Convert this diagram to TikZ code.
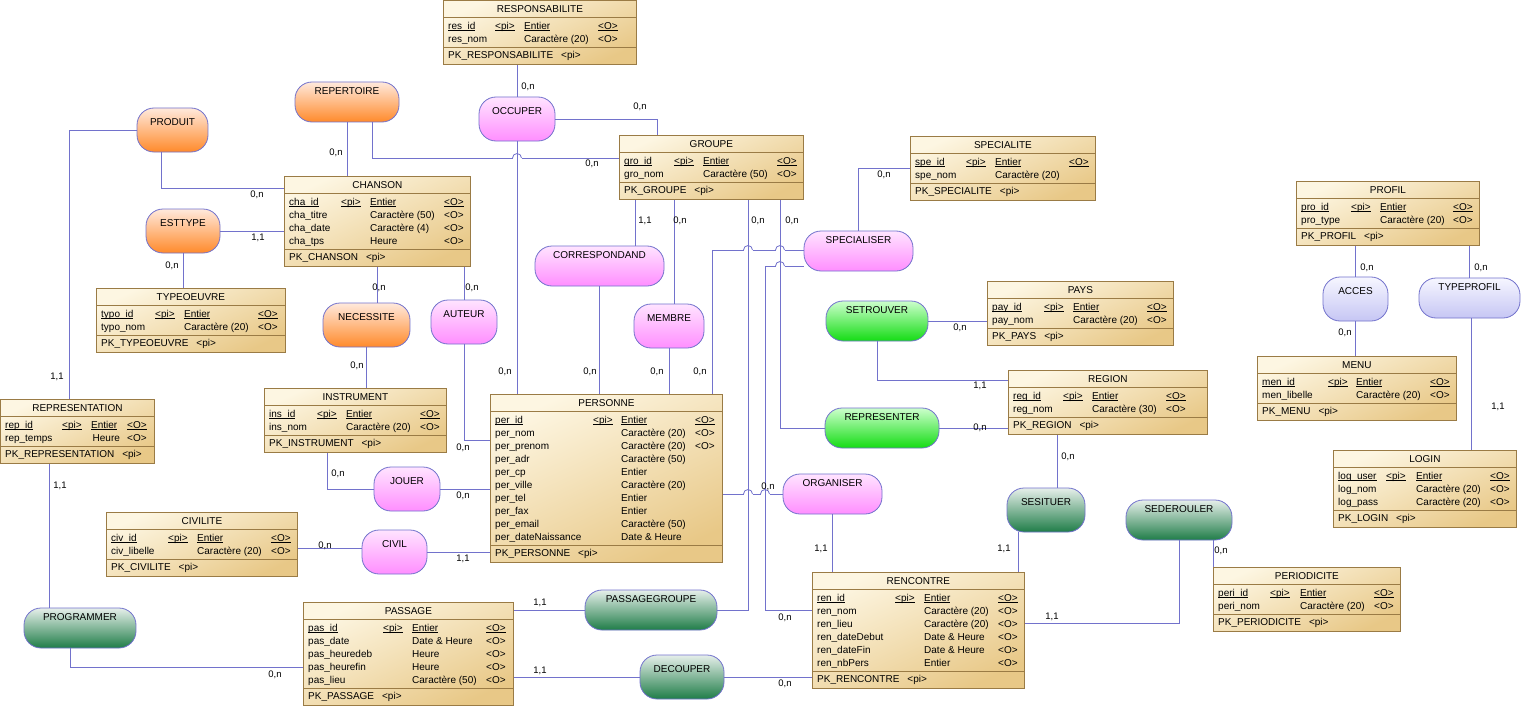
\documentclass[tikz,border=0pt]{standalone}
\usepackage{fontspec}
\setmainfont{Liberation Sans}

\definecolor{entclair}{HTML}{FDF6E2}
\definecolor{entfonce}{HTML}{E8C887}
\definecolor{entbord}{HTML}{9A7B45}
\definecolor{bleulien}{HTML}{7272CC}
\definecolor{orclair}{HTML}{FFE9DC}
\definecolor{orfonce}{HTML}{FF8A2B}
\definecolor{roclair}{HTML}{FFE4FF}
\definecolor{rofonce}{HTML}{FF8EFF}
\definecolor{vvclair}{HTML}{CCFFCC}
\definecolor{vvfonce}{HTML}{14DC14}
\definecolor{vfclair}{HTML}{E6EFEA}
\definecolor{vffonce}{HTML}{1F7D48}
\definecolor{blclair}{HTML}{F6F6FF}
\definecolor{blfonce}{HTML}{C6C6F4}

\setlength{\tabcolsep}{0pt}
\newlength{\lgidf}
\newcommand{\idf}[1]{\leavevmode\settowidth{\lgidf}{#1}\rlap{\rule[-1.4pt]{\lgidf}{0.6pt}}#1}

% #1 nom, #2 coin haut gauche, #3 largeur, #4 lignes, #5 titre, #6 colonnes, #7 attributs, #8 cle
\newcommand{\entite}[8]{%
  \pgfmathsetmacro{\hent}{38+13*#4}%
  \pgfmathsetmacro{\hsep}{21+13*#4}%
  \node[entite, minimum width=#3pt, minimum height=\hent pt] (#1) at (#2) {};
  \draw[bordent] ([yshift=-17pt]#1.north west) -- ([yshift=-17pt]#1.north east);
  \draw[bordent] ([yshift=-\hsep pt]#1.north west) -- ([yshift=-\hsep pt]#1.north east);
  \node[titre] (#1-titre) at ([yshift=-9pt]#1.north) {#5};
  \node[attributs] (#1-attr) at ([xshift=5pt,yshift=-20pt]#1.north west) {\begin{tabular}{#6}#7\end{tabular}};
  \node[cle] (#1-cle) at ([xshift=5pt,yshift=8.5pt]#1.south west) {#8\hspace{8pt}<pi>};
}

\begin{document}
\begin{tikzpicture}[x=1pt,y=-1pt]
  \tikzstyle{entite}=[draw=entbord,line width=0.8pt,top color=entclair,bottom color=entfonce,shading angle=25,inner sep=0pt,anchor=north west]
  \tikzstyle{bordent}=[draw=entbord,line width=0.8pt]
  \tikzstyle{titre}=[inner sep=0pt,font=\fontsize{10}{13}\selectfont]
  \tikzstyle{attributs}=[inner sep=0pt,anchor=north west,font=\fontsize{10}{13}\selectfont]
  \tikzstyle{cle}=[inner sep=0pt,anchor=west,font=\fontsize{10}{13}\selectfont]
  \tikzstyle{assoc}=[draw=bleulien,line width=0.8pt,rounded corners=17pt,inner xsep=2pt,inner ysep=4pt,font=\fontsize{10}{13}\selectfont]
  \tikzstyle{mince}=[text height=8.1pt,text depth=23.9pt]
  \tikzstyle{epais}=[text height=13.6pt,text depth=22.4pt]
  \tikzstyle{aorange}=[top color=orclair,bottom color=orfonce]
  \tikzstyle{arose}=[top color=roclair,bottom color=rofonce]
  \tikzstyle{avert}=[top color=vvclair,bottom color=vvfonce]
  \tikzstyle{avertf}=[top color=vfclair,bottom color=vffonce]
  \tikzstyle{alav}=[top color=blclair,bottom color=blfonce]
  \tikzstyle{lien}=[draw=bleulien,line width=0.8pt]
  \tikzstyle{vh}=[to path={|- (\tikztotarget)}]
  \tikzstyle{hv}=[to path={-| (\tikztotarget)}]
  \tikzstyle{card}=[inner sep=0pt,font=\fontsize{9.5}{11}\selectfont]

  \path[use as bounding box,fill=white] (0,0) rectangle (1522,706);

  \entite{responsabilite}{443,0}{193}{2}{RESPONSABILITE}{p{47pt}p{29pt}p{74pt}l}
    {\idf{res\_id} & \idf{<pi>} & \idf{Entier} & \idf{<O>}\\ res\_nom & & Caractère (20) & <O>}{PK\_RESPONSABILITE}
  \entite{chanson}{284,176}{186}{4}{CHANSON}{p{52pt}p{29pt}p{74pt}l}
    {\idf{cha\_id} & \idf{<pi>} & \idf{Entier} & \idf{<O>}\\ cha\_titre & & Caractère (50) & <O>\\
     cha\_date & & Caractère (4) & <O>\\ cha\_tps & & Heure & <O>}{PK\_CHANSON}
  \entite{groupe}{619,135}{184}{2}{GROUPE}{p{50pt}p{29pt}p{74pt}l}
    {\idf{gro\_id} & \idf{<pi>} & \idf{Entier} & \idf{<O>}\\ gro\_nom & & Caractère (50) & <O>}{PK\_GROUPE}
  \entite{specialite}{910,136}{185}{2}{SPECIALITE}{p{51pt}p{29pt}p{74pt}l}
    {\idf{spe\_id} & \idf{<pi>} & \idf{Entier} & \idf{<O>}\\ spe\_nom & & Caractère (20) & }{PK\_SPECIALITE}
  \entite{profil}{1296,181}{183}{2}{PROFIL}{p{50pt}p{29pt}p{73pt}l}
    {\idf{pro\_id} & \idf{<pi>} & \idf{Entier} & \idf{<O>}\\ pro\_type & & Caractère (20) & <O>}{PK\_PROFIL}
  \entite{typeoeuvre}{96,288}{189}{2}{TYPEOEUVRE}{p{54pt}p{29pt}p{74pt}l}
    {\idf{typo\_id} & \idf{<pi>} & \idf{Entier} & \idf{<O>}\\ typo\_nom & & Caractère (20) & <O>}{PK\_TYPEOEUVRE}
  \entite{representation}{0,399}{154}{2}{REPRESENTATION}{p{57pt}p{29pt}p{36pt}l}
    {\idf{rep\_id} & \idf{<pi>} & \idf{Entier} & \idf{<O>}\\ rep\_temps & & \hspace{1.5pt}Heure & <O>}{PK\_REPRESENTATION}
  \entite{instrument}{264,388}{182}{2}{INSTRUMENT}{p{48pt}p{29pt}p{74pt}l}
    {\idf{ins\_id} & \idf{<pi>} & \idf{Entier} & \idf{<O>}\\ ins\_nom & & Caractère (20) & <O>}{PK\_INSTRUMENT}
  \entite{personne}{490,394}{232}{10}{PERSONNE}{p{98pt}p{28pt}p{74pt}l}
    {\idf{per\_id} & \idf{<pi>} & \idf{Entier} & \idf{<O>}\\ per\_nom & & Caractère (20) & <O>\\
     per\_prenom & & Caractère (20) & <O>\\ per\_adr & & Caractère (50) & \\ per\_cp & & Entier & \\
     per\_ville & & Caractère (20) & \\ per\_tel & & Entier & \\ per\_fax & & Entier & \\
     per\_email & & Caractère (50) & \\ per\_dateNaissance & & Date \& Heure & }{PK\_PERSONNE}
  \entite{pays}{987,281}{186}{2}{PAYS}{p{52pt}p{29pt}p{74pt}l}
    {\idf{pay\_id} & \idf{<pi>} & \idf{Entier} & \idf{<O>}\\ pay\_nom & & Caractère (20) & <O>}{PK\_PAYS}
  \entite{region}{1008,370}{199}{2}{REGION}{p{50pt}p{29pt}p{74pt}l}
    {\idf{reg\_id} & \idf{<pi>} & \idf{Entier} & \idf{<O>}\\ reg\_nom & & Caractère (30) & <O>}{PK\_REGION}
  \entite{menu}{1257,356}{199}{2}{MENU}{p{66pt}p{28pt}p{74pt}l}
    {\idf{men\_id} & \idf{<pi>} & \idf{Entier} & \idf{<O>}\\ men\_libelle & & Caractère (20) & <O>}{PK\_MENU}
  \entite{login}{1333,450}{183}{3}{LOGIN}{p{48pt}p{30pt}p{74pt}l}
    {\idf{log\_user} & \idf{<pi>} & \idf{Entier} & \idf{<O>}\\ log\_nom & & Caractère (20) & <O>\\
     log\_pass & & Caractère (20) & <O>}{PK\_LOGIN}
  \entite{civilite}{106,512}{191}{2}{CIVILITE}{p{57pt}p{29pt}p{74pt}l}
    {\idf{civ\_id} & \idf{<pi>} & \idf{Entier} & \idf{<O>}\\ civ\_libelle & & Caractère (20) & <O>}{PK\_CIVILITE}
  \entite{passage}{303,602}{210}{5}{PASSAGE}{p{75pt}p{29pt}p{74pt}l}
    {\idf{pas\_id} & \idf{<pi>} & \idf{Entier} & \idf{<O>}\\ pas\_date & & Date \& Heure & <O>\\
     pas\_heuredeb & & Heure & <O>\\ pas\_heurefin & & Heure & <O>\\ pas\_lieu & & Caractère (50) & <O>}{PK\_PASSAGE}
  \entite{rencontre}{812,572}{212}{6}{RENCONTRE}{p{78pt}p{29pt}p{74pt}l}
    {\idf{ren\_id} & \idf{<pi>} & \idf{Entier} & \idf{<O>}\\ ren\_nom & & Caractère (20) & <O>\\
     ren\_lieu & & Caractère (20) & <O>\\ ren\_dateDebut & & Date \& Heure & <O>\\
     ren\_dateFin & & Date \& Heure & <O>\\ ren\_nbPers & & Entier & <O>}{PK\_RENCONTRE}
  \entite{periodicite}{1213,567}{187}{2}{PERIODICITE}{p{52pt}p{30pt}p{74pt}l}
    {\idf{peri\_id} & \idf{<pi>} & \idf{Entier} & \idf{<O>}\\ peri\_nom & & Caractère (20) & <O>}{PK\_PERIODICITE}

  \node[assoc,mince,aorange,minimum width=104pt] (repertoire) at (347,102) {REPERTOIRE};
  \node[assoc,epais,aorange,minimum width=71pt] (produit) at (172.5,130) {PRODUIT};
  \node[assoc,epais,arose,minimum width=76pt] (occuper) at (517,119) {OCCUPER};
  \node[assoc,epais,aorange,minimum width=74pt] (esttype) at (183,231) {ESTTYPE};
  \node[assoc,mince,arose,minimum width=129pt] (correspondand) at (599.5,266) {CORRESPONDAND};
  \node[assoc,mince,arose,minimum width=109pt] (specialiser) at (858.5,251) {SPECIALISER};
  \node[assoc,epais,aorange,minimum width=87pt] (necessite) at (366.5,325) {NECESSITE};
  \node[assoc,epais,arose,minimum width=66pt] (auteur) at (464,322) {AUTEUR};
  \node[assoc,epais,arose,minimum width=70pt] (membre) at (669,326) {MEMBRE};
  \node[assoc,mince,avert,minimum width=102pt] (setrouver) at (877,321) {SETROUVER};
  \node[assoc,epais,alav,minimum width=65pt] (acces) at (1355.5,299) {ACCES};
  \node[assoc,mince,alav,minimum width=101pt] (typeprofil) at (1469.5,298) {TYPEPROFIL};
  \node[assoc,mince,avert,minimum width=114pt] (representer) at (882,428) {REPRESENTER};
  \node[assoc,epais,arose,minimum width=66pt] (jouer) at (407,489) {JOUER};
  \node[assoc,mince,arose,minimum width=99pt] (organiser) at (832.5,494) {ORGANISER};
  \node[assoc,epais,avertf,minimum width=78pt] (sesituer) at (1046,510) {SESITUER};
  \node[assoc,mince,avertf,minimum width=106pt] (sederouler) at (1179,520) {SEDEROULER};
  \node[assoc,epais,arose,minimum width=65pt] (civil) at (394.5,552) {CIVIL};
  \node[assoc,mince,avertf,minimum width=112pt] (programmer) at (80,628) {PROGRAMMER};
  \node[assoc,mince,avertf,minimum width=132pt] (passagegroupe) at (651,610) {PASSAGEGROUPE};
  \node[assoc,epais,avertf,minimum width=84pt] (decouper) at (682,677) {DECOUPER};

  \path[lien] (occuper.north) edge (occuper.north |- responsabilite.south);
  \path[lien] (occuper.east) edge[hv] ([xshift=38pt]groupe.north west);
  \path[lien] (occuper.south) edge (occuper.south |- personne.north);
  \path[lien] (repertoire.south) edge (repertoire.south |- chanson.north);
  \path[lien] ([xshift=25pt]repertoire.south) edge[vh] ([yshift=9pt]groupe.west);
  \path[lien] ([xshift=-11pt]produit.south) edge[vh] ([yshift=33pt]chanson.west);
  \path[lien] (produit.west) edge[hv] ([xshift=69pt]representation.north west);
  \path[lien] (esttype.east) edge (esttype.east -| chanson.west);
  \path[lien] (esttype.south) edge (esttype.south |- typeoeuvre.north);
  \path[lien] (chanson.south) edge (chanson.south |- necessite.north);
  \path[lien] (necessite.south) edge (necessite.south |- instrument.north);
  \path[lien] (auteur.north) edge (auteur.north |- chanson.south);
  \path[lien] (auteur.south) edge[vh] ([yshift=38pt]personne.west);
  \path[lien] (jouer.west) edge[hv] ([xshift=63pt]instrument.south west);
  \path[lien] (jouer.east) edge (jouer.east -| personne.west);
  \path[lien] ([yshift=4pt]civil.west) edge ([yshift=4pt]civil.west -| civilite.east);
  \path[lien] (civil.east) edge (civil.east -| personne.west);
  \path[lien] ([xshift=36pt]correspondand.north) edge ([xshift=36pt]correspondand.north |- groupe.south);
  \path[lien] (correspondand.south) edge (correspondand.south |- personne.north);
  \path[lien] ([xshift=5pt]membre.north) edge ([xshift=5pt]membre.north |- groupe.south);
  \path[lien] (membre.south) edge (membre.south |- personne.north);
  \path[lien] (specialiser.north) edge[vh] (specialite.west);
  \path[lien] ([yshift=1pt]specialiser.west) edge[hv] ([xshift=222pt]personne.north west);
  \path[lien] ([yshift=-15pt]specialiser.west) -| ([xshift=-47pt,yshift=20pt]rencontre.west) -- ([yshift=20pt]rencontre.west);
  \path[lien] ([xshift=129pt]groupe.south west) edge[vh] (passagegroupe.east);
  \path[lien] ([xshift=161pt]groupe.south west) edge[vh] (representer.west);
  \path[lien] (representer.east) edge (representer.east -| region.west);
  \path[lien] (setrouver.east) edge (setrouver.east -| pays.west);
  \path[lien] (setrouver.south) edge[vh] ([yshift=22pt]region.west);
  \path[lien] ([xshift=11pt]sesituer.north) edge ([xshift=11pt]sesituer.north |- region.south);
  \path[lien] ([xshift=-28pt]sesituer.south) edge ([xshift=-28pt]sesituer.south |- rencontre.north);
  \path[lien] ([xshift=34pt]sederouler.south) edge ([xshift=34pt]sederouler.south |- periodicite.north);
  \path[lien] (sederouler.south) edge[vh] ([yshift=7pt]rencontre.east);
  \path[lien] (organiser.west) edge (organiser.west -| personne.east);
  \path[lien] (organiser.south) edge (organiser.south |- rencontre.north);
  \path[lien] (passagegroupe.west) edge (passagegroupe.west -| passage.east);
  \path[lien] (decouper.west) edge (decouper.west -| passage.east);
  \path[lien] (decouper.east) edge (decouper.east -| rencontre.west);
  \path[lien] ([xshift=-31pt]programmer.north) edge ([xshift=-31pt]programmer.north |- representation.south);
  \path[lien] ([xshift=-10pt]programmer.south) edge[vh] ([yshift=-13.5pt]passage.west);
  \path[lien] (acces.north) edge (acces.north |- profil.south);
  \path[lien] (acces.south) edge (acces.south |- menu.north);
  \path[lien] (typeprofil.north) edge (typeprofil.north |- profil.south);
  \path[lien] ([xshift=2pt]typeprofil.south) edge ([xshift=2pt]typeprofil.south |- login.north);

  \foreach \x/\y [count=\i] in {517/158, 748/250, 780/250, 780/266, 748/494, 765/494} {
    \coordinate (saut\i) at (\x,\y);
    \fill[white] ([xshift=-4.5pt,yshift=-1pt]saut\i) rectangle ([xshift=4.5pt,yshift=1pt]saut\i);
    \path[lien] ([yshift=-6pt]saut\i) -- ([yshift=6pt]saut\i);
    \path[lien] ([xshift=-4.5pt]saut\i) arc[start angle=180,end angle=0,radius=4.5pt];
  }

  \foreach \x/\y/\a/\b [count=\i] in {528/87/0/n, 640/107/0/n, 505/372/0/n, 336/153/0/n, 592/164/0/n,
      257/195/0/n, 57/377/1/1, 258/238/1/1, 172/266/0/n, 379/288/0/n, 357/366/0/n, 472/288/0/n,
      463/448/0/n, 338/474/0/n, 463/496/0/n, 325/546/0/n, 463/559/1/1, 645/221/1/1, 680/221/0/n,
      758/221/0/n, 792/221/0/n, 590/372/0/n, 657/372/0/n, 700/372/0/n, 884/175/0/n, 960/328/0/n,
      980/386/1/1, 980/428/0/n, 1068/457/0/n, 1004/549/1/1, 821/549/1/1, 768/487/0/n, 1221/551/0/n,
      1052/617/1/1, 540/603/1/1, 785/618/0/n, 540/671/1/1, 785/684/0/n, 60/486/1/1, 275/675/0/n,
      1367/268/0/n, 1345/333/0/n, 1481/268/0/n, 1498/407/1/1}
    \node[card] (card\i) at (\x,\y) {\a,\b};
\end{tikzpicture}
\end{document}
